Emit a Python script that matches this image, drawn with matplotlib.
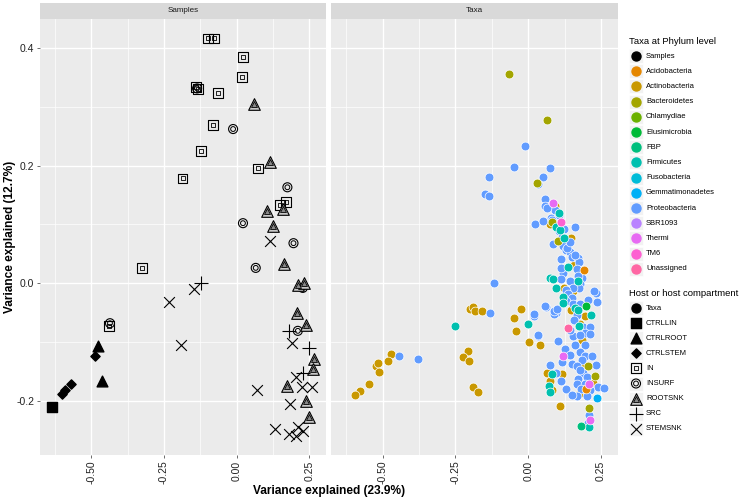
import numpy as np
import matplotlib
matplotlib.use('Agg')
import matplotlib.pyplot as plt
from matplotlib.patches import Rectangle

plt.rcParams['font.family'] = ['Liberation Sans', 'DejaVu Sans']

# ---------------- data ----------------
# sample scores (left facet), grouped by host compartment
ctrllin_x = [-0.636]
ctrllin_y = [-0.211]
ctrlroot_x = [-0.478, -0.465]
ctrlroot_y = [-0.107, -0.167]
ctrlstem_x = [-0.486, -0.570, -0.592, -0.601]
ctrlstem_y = [-0.123, -0.172, -0.181, -0.188]
in_x = [-0.098, -0.077, 0.021, 0.018, -0.141, -0.133, -0.065, -0.081, -0.123,
        0.075, -0.186, 0.150, 0.169, -0.325, -0.440]
in_y = [0.416, 0.416, 0.385, 0.351, 0.333, 0.330, 0.323, 0.269, 0.225,
        0.195, 0.178, 0.133, 0.138, 0.026, -0.073]
insurf_x = [-0.136, -0.012, 0.175, 0.022, 0.196, 0.066, 0.228, 0.211, -0.436]
insurf_y = [0.331, 0.262, 0.163, 0.102, 0.068, 0.026, -0.008, -0.081, -0.068]
rootsnk_x = [0.059, 0.115, 0.161, 0.104, 0.127, 0.165, 0.213, 0.233, 0.209,
             0.238, 0.265, 0.263, 0.175, 0.239, 0.251]
rootsnk_y = [0.304, 0.206, 0.126, 0.123, 0.098, 0.033, -0.003, 0.000, -0.051,
             -0.071, -0.128, -0.145, -0.174, -0.200, -0.228]
src_x = [-0.121, 0.182, 0.249, 0.228]
src_y = [0.001, -0.081, -0.110, -0.153]
stemsnk_x = [0.116, -0.148, -0.231, -0.193, 0.191, 0.204, 0.227, 0.259, 0.069,
             0.184, 0.133, 0.211, 0.228, 0.180, 0.205]
stemsnk_y = [0.072, -0.010, -0.032, -0.105, -0.102, -0.159, -0.176, -0.177, -0.181,
             -0.205, -0.248, -0.244, -0.251, -0.257, -0.259]

# taxa scores (right facet), by phylum
actino_x = [0.091, 0.073, 0.148, 0.158, 0.122, 0.154, 0.145, 0.195, -0.024, -0.049,
            -0.043, 0.178, 0.003, 0.041, 0.184, 0.184, 0.065, 0.116, 0.073, 0.221,
            0.081, 0.174, 0.108, 0.198, -0.199, -0.191, -0.182, -0.159, -0.208, -0.224,
            -0.203, -0.189, -0.172, -0.470, -0.483, -0.521, -0.515, -0.513, -0.548,
            -0.579, -0.595]
actino_y = [0.132, 0.101, 0.076, 0.031, -0.008, -0.014, -0.045, -0.056, -0.044, -0.060,
            -0.081, -0.069, -0.100, -0.105, -0.097, -0.140, -0.153, -0.155, -0.166, -0.169,
            -0.182, -0.188, -0.208, -0.241, -0.044, -0.040, -0.047, -0.047, -0.115, -0.126,
            -0.132, -0.176, -0.185, -0.121, -0.132, -0.141, -0.136, -0.151, -0.171,
            -0.183, -0.190]
proteo_x = [-0.011, -0.050, 0.074, -0.135, 0.050, 0.034, -0.147, -0.134, 0.057, 0.059,
            0.092, 0.078, 0.105, 0.024, 0.052, 0.106, 0.121, 0.159, 0.085, 0.120,
            0.131, 0.143, 0.149, 0.114, 0.172, 0.174, 0.166, 0.120, 0.184, 0.172,
            0.114, 0.143, 0.178, 0.174, 0.152, 0.131, 0.234, 0.236, 0.137, 0.149,
            0.131, 0.154, 0.178, 0.166, 0.061, 0.096, 0.088, 0.021, 0.154, 0.189,
            0.213, 0.195, 0.035, 0.178, 0.213, 0.195, 0.102, 0.125, 0.117, 0.178,
            0.195, 0.218, 0.184, 0.149, 0.166, 0.234, 0.073, 0.096, 0.189, 0.172,
            0.201, 0.111, 0.166, 0.195, 0.240, 0.259, 0.131, 0.182, 0.213, 0.166,
            0.201, 0.207, 0.205, -0.117, -0.130, 0.020, 0.057, 0.087, 0.098, 0.033,
            -0.378, -0.444, 0.227, 0.082, 0.064, 0.116, 0.134, 0.161, 0.144, 0.111,
            0.205, 0.158, 0.144, 0.161, 0.144, 0.178, 0.151]
proteo_y = [0.233, 0.198, 0.195, 0.180, 0.181, 0.169, 0.152, 0.148, 0.143, 0.131,
            0.125, 0.110, 0.116, 0.100, 0.106, 0.089, 0.092, 0.096, 0.067, 0.064,
            0.056, 0.053, 0.044, 0.041, 0.042, 0.036, 0.024, 0.018, 0.008, 0.012,
            0.007, 0.004, -0.002, -0.008, -0.008, -0.012, -0.016, -0.032, -0.019, -0.025,
            -0.031, -0.035, -0.036, -0.054, -0.040, -0.050, -0.052, -0.056, -0.089, -0.074,
            -0.074, -0.085, -0.089, -0.088, -0.086, -0.105, -0.098, -0.111, -0.134, -0.117,
            -0.123, -0.124, -0.131, -0.138, -0.140, -0.139, -0.139, -0.152, -0.152, -0.163,
            -0.160, -0.166, -0.172, -0.171, -0.176, -0.178, -0.179, -0.179, -0.181, -0.192,
            -0.192, -0.224, -0.238, 0.000, -0.051, -0.053, -0.038, -0.047, -0.044, -0.088,
            -0.128, -0.124, -0.014, 0.108, 0.128, 0.079, 0.060, 0.048, 0.070, 0.026,
            -0.028, -0.062, -0.079, -0.105, -0.122, -0.147, -0.190]
bacter_x = [-0.065, 0.066, 0.030, 0.102, 0.205, 0.230, 0.209, 0.081]
bacter_y = [0.355, 0.278, 0.171, 0.071, -0.141, -0.157, -0.212, 0.104]
firmic_x = [0.104, 0.096, 0.123, 0.108, 0.137, 0.076, 0.085, 0.094, 0.172, 0.120,
            0.120, 0.160, 0.172, 0.216, 0.000, 0.174, 0.081, 0.070, 0.076, 0.209, -0.250]
firmic_y = [0.119, 0.096, 0.076, 0.091, 0.027, 0.008, 0.007, -0.009, 0.004, -0.024,
            -0.034, -0.042, -0.045, -0.054, -0.070, -0.073, -0.155, -0.174, -0.185, -0.245, -0.073]
acido_x = [0.193, 0.199]
acido_y = [0.022, -0.179]
elusi_x = [0.199]
elusi_y = [-0.038]
fbp_x = [0.182]
fbp_y = [-0.243]
gemma_x = [0.236]
gemma_y = [-0.195]
thermi_x = [0.085, 0.120, 0.209, 0.211]
thermi_y = [0.136, -0.124, -0.172, -0.233]
tm6_x = [0.114]
tm6_y = [0.104]
unass_x = [0.135]
unass_y = [-0.076]

phyla = ['Samples', 'Acidobacteria', 'Actinobacteria', 'Bacteroidetes', 'Chlamydiae',
         'Elusimicrobia', 'FBP', 'Firmicutes', 'Fusobacteria', 'Gemmatimonadetes',
         'Proteobacteria', 'SBR1093', 'Thermi', 'TM6', 'Unassigned']
phylum_colors = ['#000000', '#E58700', '#C99800', '#A3A500', '#6BB100', '#00BA38',
                 '#00BF7D', '#00C0AF', '#00BCD8', '#00B0F6', '#619CFF', '#B983FF',
                 '#E76BF3', '#FD61D1', '#FF67A4']
hosts = ['Taxa', 'CTRLLIN', 'CTRLROOT', 'CTRLSTEM', 'IN', 'INSURF', 'ROOTSNK', 'SRC', 'STEMSNK']

COL = dict(zip(phyla, phylum_colors))

# ---------------- layout (pixel based, ggplot look) ----------------
W, H = 743, 504
fig = plt.figure(figsize=(W / 100, H / 100), dpi=100)
fig.set_facecolor('white')


def px_axes(l, t, w, h, **kw):
    return fig.add_axes([l / W, 1 - (t + h) / H, w / W, h / H], **kw)


XLIM = (-0.677, 0.308)
YLIM = (-0.292, 0.449)

axL = px_axes(40, 19, 286, 436)
axR = px_axes(331, 19, 287, 436)

for ax in (axL, axR):
    ax.set_facecolor('#EBEBEB')
    ax.set_xlim(*XLIM)
    ax.set_ylim(*YLIM)
    ax.set_xticks([-0.5, -0.25, 0.0, 0.25])
    ax.set_xticks([-0.625, -0.375, -0.125, 0.125], minor=True)
    ax.set_yticks([-0.2, 0.0, 0.2, 0.4])
    ax.set_yticks([-0.1, 0.1, 0.3], minor=True)
    ax.grid(which='major', color='white', lw=1.0)
    ax.grid(which='minor', color='white', lw=0.5)
    ax.set_axisbelow(True)
    for s in ax.spines.values():
        s.set_visible(False)
    ax.set_xticklabels(['-0.50', '-0.25', '0.00', '0.25'], rotation=90)
    ax.tick_params(which='major', length=2.5, width=0.5, color='#333333',
                   labelsize=7.5, labelcolor='#222222', pad=1.5)
    ax.tick_params(which='minor', length=0)

axL.set_yticklabels(['-0.2', '0.0', '0.2', '0.4'])
axR.tick_params(left=False, labelleft=False)

# facet strips
for l, w, label in [(40, 286, 'Samples'), (331, 287, 'Taxa')]:
    st = px_axes(l, 3, w, 16)
    st.set_facecolor('#D9D9D9')
    st.set_xticks([])
    st.set_yticks([])
    for s in st.spines.values():
        s.set_visible(False)
    st.text(0.5, 0.5, label, ha='center', va='center', fontsize=5.8, color='#1A1A1A',
            transform=st.transAxes)

# ---------------- samples facet ----------------
k = dict(color='black', zorder=3)
axL.scatter(ctrllin_x, ctrllin_y, marker='s', s=45, **k)
axL.scatter(ctrlroot_x, ctrlroot_y, marker='^', s=60, **k)
axL.scatter(ctrlstem_x, ctrlstem_y, marker='D', s=22, **k)
axL.scatter(in_x, in_y, marker='s', s=50, facecolor='none', edgecolor='black', lw=0.8, zorder=3)
axL.scatter(in_x, in_y, marker='s', s=8, facecolor='none', edgecolor='black', lw=0.6, zorder=3)
axL.scatter(insurf_x, insurf_y, marker='o', s=42, facecolor='none', edgecolor='black', lw=0.8, zorder=3)
axL.scatter(insurf_x, insurf_y, marker='o', s=12, facecolor='none', edgecolor='black', lw=0.7, zorder=3)
axL.scatter(rootsnk_x, rootsnk_y, marker='^', s=70, facecolor='#C8C8C8', edgecolor='black', lw=0.8, zorder=3)
axL.scatter(rootsnk_x, rootsnk_y, marker='^', s=18, facecolor='#888888', edgecolor='black', lw=0.6, zorder=3)
axL.scatter(src_x, src_y, marker='+', s=90, color='black', lw=0.8, zorder=3)
axL.scatter(stemsnk_x, stemsnk_y, marker='x', s=60, color='black', lw=0.8, zorder=3)

# ---------------- taxa facet ----------------
taxa = [('Actinobacteria', actino_x, actino_y),
        ('Proteobacteria', proteo_x, proteo_y),
        ('Bacteroidetes', bacter_x, bacter_y),
        ('Firmicutes', firmic_x, firmic_y),
        ('Acidobacteria', acido_x, acido_y),
        ('Elusimicrobia', elusi_x, elusi_y),
        ('FBP', fbp_x, fbp_y),
        ('Gemmatimonadetes', gemma_x, gemma_y),
        ('Thermi', thermi_x, thermi_y),
        ('TM6', tm6_x, tm6_y),
        ('Unassigned', unass_x, unass_y)]
for name, xs, ys in taxa:
    axR.scatter(xs, ys, s=40, color=COL[name], edgecolor='white', lw=0.5, zorder=3)

# ---------------- axis titles ----------------
fig.text(329 / W, 1 - 491 / H, 'Variance explained (23.9%)', ha='center', va='center',
         fontsize=8.6, fontweight='bold')
fig.text(10 / W, 1 - 237 / H, 'Variance explained (12.7%)', ha='center', va='center',
         fontsize=8.6, fontweight='bold', rotation=90)

# ---------------- legends ----------------
lg = px_axes(0, 0, W, H)
lg.set_xlim(0, W)
lg.set_ylim(H, 0)
lg.axis('off')
lg.patch.set_visible(False)

lg.text(629, 42, 'Taxa at Phylum level', fontsize=6.8, va='center', ha='left')
for i, (name, c) in enumerate(zip(phyla, phylum_colors)):
    y = 56 + 15.2 * i
    lg.add_patch(Rectangle((629, y - 7), 14, 14, facecolor='#F2F2F2', edgecolor='white', lw=0.5))
    lg.scatter([636], [y], s=42, color=c)
    lg.text(646, y, name, fontsize=5.5, va='center', ha='left')

lg.text(629, 293, 'Host or host compartment', fontsize=6.8, va='center', ha='left')
host_style = {
    'Taxa': [dict(marker='o', s=42, color='black')],
    'CTRLLIN': [dict(marker='s', s=45, color='black')],
    'CTRLROOT': [dict(marker='^', s=60, color='black')],
    'CTRLSTEM': [dict(marker='D', s=22, color='black')],
    'IN': [dict(marker='s', s=50, facecolor='none', edgecolor='black', lw=0.8),
           dict(marker='s', s=8, facecolor='none', edgecolor='black', lw=0.6)],
    'INSURF': [dict(marker='o', s=42, facecolor='none', edgecolor='black', lw=0.8),
               dict(marker='o', s=12, facecolor='none', edgecolor='black', lw=0.7)],
    'ROOTSNK': [dict(marker='^', s=70, facecolor='#C8C8C8', edgecolor='black', lw=0.8),
                dict(marker='^', s=18, facecolor='#888888', edgecolor='black', lw=0.6)],
    'SRC': [dict(marker='+', s=90, color='black', lw=0.8)],
    'STEMSNK': [dict(marker='x', s=60, color='black', lw=0.8)],
}
for i, name in enumerate(hosts):
    y = 308 + 15.1 * i
    lg.add_patch(Rectangle((629, y - 7), 14, 14, facecolor='#F2F2F2', edgecolor='white', lw=0.5))
    for st in host_style[name]:
        lg.scatter([636], [y], **st)
    lg.text(646, y, name, fontsize=5.5, va='center', ha='left')

fig.savefig('out.png', dpi=100)
